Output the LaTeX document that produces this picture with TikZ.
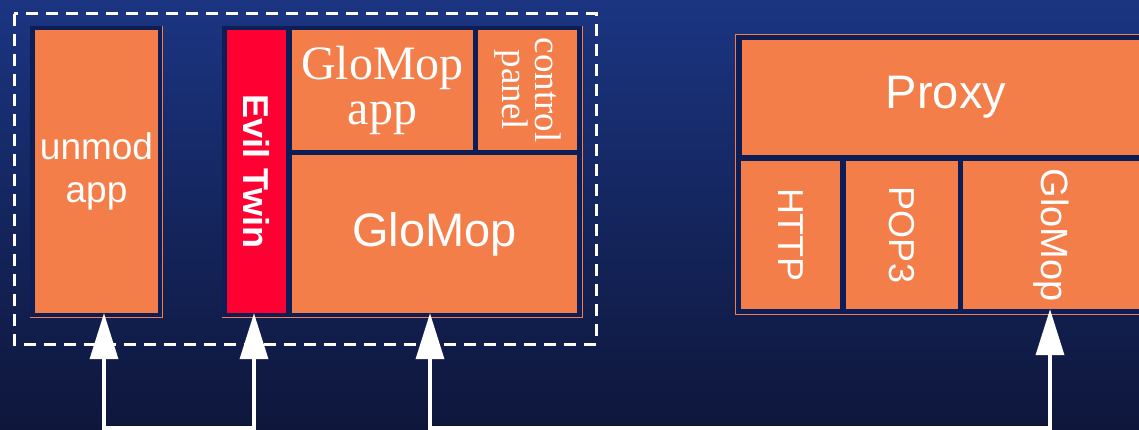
\documentclass[tikz,border=0pt]{standalone}
\usepackage{fontspec}
\setmainfont{Liberation Sans}
\newfontfamily\timesfont{Liberation Serif}
\usetikzlibrary{positioning,arrows.meta}
\definecolor{bgtop}{RGB}{27,53,130}
\definecolor{bgbot}{RGB}{14,22,58}
\definecolor{navy}{RGB}{12,30,85}
\definecolor{blockorange}{RGB}{244,126,74}
\definecolor{twinred}{RGB}{255,0,51}
\tikzset{
  block/.style={fill=blockorange, text=white, inner sep=0pt, align=center},
  navyframe/.style={fill=navy, inner sep=0pt},
  rim/.style={draw=blockorange, line width=0.8pt},
  link/.style={draw=white, line width=3.5pt,
    {Triangle[width=28pt,length=46pt]}-{Triangle[width=28pt,length=46pt]}},
  dashbox/.style={draw=white, line width=3pt, dash pattern=on 12pt off 8pt},
}

\begin{document}
\begin{tikzpicture}[x=1pt, y=-1pt]
	\useasboundingbox (0,0) rectangle (1139,430);
	\shade[top color=bgtop, bottom color=bgbot] (0,0) rectangle (1139,430);
	% client side
	\node[navyframe, minimum width=132pt, minimum height=291pt] (unmodframe) at (96,171.5) {};
	\draw[rim] (unmodframe.north east) -- (unmodframe.south east) -- (unmodframe.south west);
	\node[block, minimum width=123pt, minimum height=283pt, font=\fontsize{37}{43}\selectfont] (unmod) at (96.5,171.5) {unmod\\app};
	\node[navyframe, minimum width=360pt, minimum height=291pt] (glomopframe) at (402,171.5) {};
	\draw[rim] (glomopframe.north east) -- (glomopframe.south east) -- (glomopframe.south west);
	\node[block, fill=twinred, rotate=-90, minimum width=283pt, minimum height=59pt, font=\bfseries\fontsize{36}{40}\selectfont] (twin) at (256.5,171.5) {Evil Twin};
	\node[block, minimum width=181pt, minimum height=120pt, font=\timesfont\fontsize{48}{45}\selectfont] (app) at (382.5,90) {GloMop\\app};
	\node[block, rotate=-90, minimum width=120pt, minimum height=99pt, font=\timesfont\fontsize{37}{33}\selectfont] (panel) at (527.5,90) {control\\panel};
	\node[block, minimum width=285pt, minimum height=158pt, font=\fontsize{47}{50}\selectfont] (glomop) at (434.5,234) {GloMop};
	\draw[dashbox] (14,14) rectangle (596,344);
	% proxy side
	\node[navyframe, minimum width=424pt, minimum height=279pt] (proxyframe) at (948,174.5) {};
	\draw[rim] (proxyframe.north east) -- (proxyframe.north west) -- (proxyframe.south west) -- (proxyframe.south east);
	\node[block, minimum width=408pt, minimum height=115pt, font=\fontsize{47}{50}\selectfont] (proxy) at (946,97.5) {Proxy};
	\node[block, rotate=-90, minimum width=148pt, minimum height=99pt, font=\fontsize{36}{40}\selectfont] (http) at (790.5,235) {HTTP};
	\node[block, rotate=-90, minimum width=148pt, minimum height=112pt, font=\fontsize{36}{40}\selectfont] (pop) at (902,235) {POP3};
	\node[block, rotate=-90, minimum width=148pt, minimum height=176pt, font=\fontsize{38}{40}\selectfont] (proxyglomop) at (1051,235) {GloMop};
	% wires
	\coordinate (b1) at (104,428);
	\coordinate (b2) at (254,428);
	\coordinate (b3) at (430,428);
	\coordinate (b4) at (1050,428);
	\draw[link] (b1 |- unmod.south) -- (b1) -- (b2) -- (b2 |- twin.east);
	\draw[link] (b3 |- glomop.south) -- (b3) -- (b4) -- (b4 |- proxyglomop.east);
\end{tikzpicture}
\end{document}
